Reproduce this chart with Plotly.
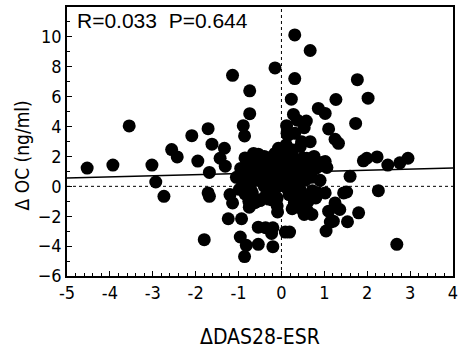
import plotly.graph_objects as go

# Scatter data: change in DAS28-ESR vs change in OC (ng/ml)
das_x = [
    -4.53, -3.93, -3.55, -3.02, -2.93, -2.74, -2.56, -2.43, -2.09, -1.95,
    -1.71, -1.62, -1.68, -1.71, -1.68, -1.80, -1.43, -1.33, -1.31, -1.14,
    -1.24, -1.20, -1.14, -0.89, -0.86, -0.74, -0.74, -0.93, -0.96, -0.82,
    -0.86, -0.54, -0.54, -0.37, -0.23, -0.20, -0.20, -0.15, -0.09, -0.13,
    -0.75, -0.58, 0.09, 0.19, 0.31, 0.67, 0.31, 0.23, 0.28, 0.37,
    0.58, 0.53, 0.12, 0.13, 0.31, 0.47, 0.67, 0.76, 0.86, 1.02,
    1.10, 1.27, 1.25, 1.33, 1.77, 2.02, 1.73, 1.91, 1.99, 2.23,
    2.48, 2.76, 2.95, 2.26, 2.69, 1.60, 1.80, 1.54, 1.45, 1.52,
    1.36, 1.25, 1.10, 1.02, 1.04, 1.14, 1.21, 0.71, 0.53, 1.02,
    1.06, 0.85,
    # dense central cluster
    -0.95, -0.85, -0.80, -0.90, -0.75, -0.70, -0.65, -0.60, -0.55, -0.85,
    -0.75, -0.60, -0.50, -0.50, -0.45, -0.62, -0.40, -0.35, -0.30, -0.30,
    -0.25, -0.20, -0.15, -0.15, -0.10, -0.05, -0.40, -0.38, -0.22, -0.10,
    -0.05, -0.07, 0.05, 0.10, 0.12, 0.15, 0.20, 0.25, 0.30, 0.32,
    0.35, 0.40, 0.45, 0.50, 0.55, 0.60, 0.65, 0.70, 0.72, 0.30,
    0.45, 0.55, 0.05, 0.11, 0.25, 0.68, 0.80, 0.78, 0.60, 0.15,
    -0.77, -0.65, -0.54, -0.42, -0.25, 0.06, 0.24, 0.44, 0.59, 0.71,
    0.67, -0.81, -0.78, -0.68, -0.76, -0.50, -0.30, -0.10, 0.18, 0.28,
    0.44, 0.48, 0.62, 0.80, 0.84, -1.05, -0.98, -0.88, -0.70, -0.45,
    -0.33, 0.00, 0.38, 0.52, 0.90, 0.95, -0.20, 0.22, 0.40, -0.58,
]
oc_y = [
    1.22, 1.42, 4.04, 1.42, 0.29, -0.67, 2.46, 1.97, 3.39, 1.69,
    3.86, 2.82, 0.93, -0.44, -0.67, -3.57, 1.88, 2.55, 1.35, 7.43,
    -2.17, -0.55, -1.11, 4.06, 3.37, 6.39, 4.86, -2.17, -3.39, -3.95,
    -4.70, -3.88, -2.73, -2.77, -3.15, -4.04, -2.77, 7.92, -1.71, -1.00,
    -1.40, -1.00, -3.06, -3.06, 10.13, 9.09, 7.21, 5.83, 4.81, 4.43,
    4.37, 3.92, 4.06, 3.55, 3.55, 2.99, 2.99, 2.00, 5.21, 4.88,
    3.84, 5.81, 3.15, 2.88, 7.14, 5.90, 4.21, 1.71, 1.88, 1.97,
    1.42, 1.57, 1.88, -0.29, -3.88, 0.67, -1.77, -2.37, -0.44, -0.38,
    -1.55, -1.11, -1.66, -0.44, -2.99, -2.39, -2.33, -1.88, -1.88, 1.66,
    1.26, -0.44,
    # dense central cluster
    1.20, 1.90, 0.60, 0.20, 1.50, -0.30, 0.90, 2.10, 1.30, -0.50,
    0.10, 0.40, 1.80, -0.90, 0.70, -1.10, 2.00, 1.10, 0.30, -0.40,
    1.60, 0.80, 2.20, -0.20, 1.30, 0.50, 0.00, -0.70, -0.90, -1.30,
    1.90, 2.55, 2.30, 1.60, 0.70, -0.20, 1.20, 2.10, 0.20, -0.60,
    1.50, 0.90, -0.30, 1.90, 0.40, -0.80, 1.40, 0.60, -0.30, -1.10,
    -1.30, 1.00, 0.10, 2.77, -1.50, 1.80, 1.20, -0.50, -1.60, 3.40,
    1.88, 2.20, 2.15, 1.88, 1.93, 2.33, 2.44, 2.66, 1.88, 1.55,
    1.11, 0.22, -0.10, -0.45, -1.00, -0.95, -0.85, -0.78, -0.55, -0.78,
    -1.11, -1.55, -1.00, -0.78, -0.44, 0.60, -0.20, 0.95, -0.60, 0.30,
    1.40, 1.10, 0.30, 0.80, 0.40, 1.60, 0.40, 0.55, 1.30, 1.10,
]

fit_x = [-5, 4]
fit_y = [0.55, 1.22]

x_ticks = [-5, -4, -3, -2, -1, 0, 1, 2, 3, 4]
x_tick_text = ["-5", "-4", "-3", "-2", "-1", "0", "1", "2", "3", "4"]
y_ticks = [-6, -4, -2, 0, 2, 4, 6, 8, 10, 12]
y_tick_text = ["\u22126", "\u22124", "\u22122", "0", "2", "4", "6", "8", "10", "12"]

FONT = "DejaVu Sans Condensed, Liberation Sans, sans-serif"

fig = go.Figure()
fig.add_trace(go.Scatter(x=[0, 0], y=[-6, 12], mode="lines",
                         line=dict(color="black", width=1, dash="dot"),
                         hoverinfo="skip", showlegend=False))
fig.add_trace(go.Scatter(x=[-5, 4], y=[0, 0], mode="lines",
                         line=dict(color="black", width=1, dash="dot"),
                         hoverinfo="skip", showlegend=False))
fig.add_trace(go.Scatter(x=das_x, y=oc_y, mode="markers",
                         marker=dict(color="black", size=13, line=dict(width=0)),
                         showlegend=False))
fig.add_trace(go.Scatter(x=fit_x, y=fit_y, mode="lines",
                         line=dict(color="black", width=1.5),
                         showlegend=False))

fig.update_layout(
    width=470, height=350,
    margin=dict(l=67, r=17, t=5, b=74),
    plot_bgcolor="white", paper_bgcolor="white",
    font=dict(family=FONT, size=18, color="black"),
    xaxis=dict(range=[-5, 4], tickvals=x_ticks, ticktext=x_tick_text,
               ticks="inside", ticklen=5, tickwidth=1, tickcolor="black",
               minor=dict(dtick=0.2, ticks="inside", ticklen=3, tickcolor="black"),
               showline=True, linecolor="black", linewidth=1.5, mirror=True,
               showgrid=False, zeroline=False,
               tickfont=dict(family=FONT, size=18)),
    yaxis=dict(range=[-6, 12], tickvals=y_ticks, ticktext=y_tick_text,
               ticks="inside", ticklen=5, tickwidth=1, tickcolor="black",
               minor=dict(dtick=1, ticks="inside", ticklen=3, tickcolor="black"),
               showline=True, linecolor="black", linewidth=1.5, mirror=True,
               showgrid=False, zeroline=False,
               tickfont=dict(family=FONT, size=18)),
    annotations=[
        dict(text="R=0.033  P=0.644", xref="paper", yref="paper", x=0.02, y=1.0,
             xanchor="left", yanchor="top", showarrow=False,
             font=dict(family="Liberation Sans, Arial, sans-serif", size=21)),
        dict(text="\u0394DAS28-ESR", xref="paper", yref="paper", x=0.5, y=-0.225,
             xanchor="center", yanchor="middle", showarrow=False,
             font=dict(family=FONT, size=21)),
        dict(text="\u0394 OC (ng/ml)", xref="paper", yref="paper", x=-0.118, y=0.45,
             xanchor="center", yanchor="middle", showarrow=False, textangle=-90,
             font=dict(family=FONT, size=19)),
    ],
)

fig.write_html("out.html", config={"displayModeBar": False},
               post_script="document.body.style.margin='0';")
